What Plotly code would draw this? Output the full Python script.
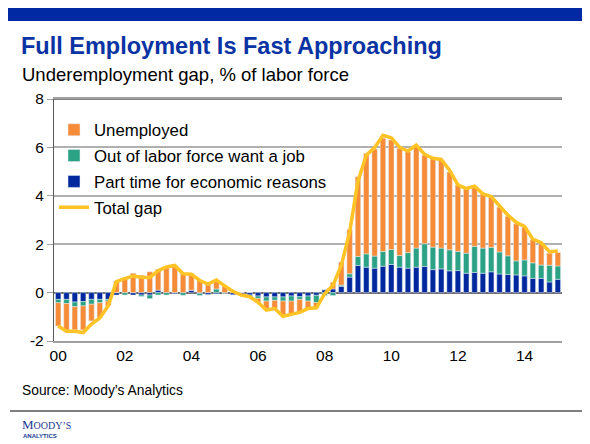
import plotly.graph_objects as go

# quarterly, 2000Q1 .. 2015Q1
quarters = list(range(61))
year_ticks = [0, 8, 16, 24, 32, 40, 48, 56]
year_labels = ["00", "02", "04", "06", "08", "10", "12", "14"]
gap_ticks = [-2, 0, 2, 4, 6, 8]
gap_labels = ["-2", "0", "2", "4", "6", "8"]

part_time = [-0.28, -0.28, -0.39, -0.37, -0.28, -0.28, -0.28, -0.10, 0.00, -0.10,
             -0.10, -0.10, 0.10, 0.00, -0.05, 0.00, 0.10, -0.04, -0.08, -0.05,
             0.00, -0.09, -0.10, -0.10, -0.14, -0.18, -0.18, -0.18, -0.14, -0.17,
             -0.14, -0.11, 0.12, 0.15, 0.26, 0.64, 1.12, 1.05, 1.01, 1.09,
             1.16, 1.05, 1.01, 1.05, 1.08, 0.95, 0.98, 0.90, 0.91, 0.80,
             0.83, 0.80, 0.86, 0.77, 0.75, 0.73, 0.69, 0.59, 0.59, 0.44,
             0.55]
out_of_lf = [-0.14, -0.17, -0.19, -0.18, -0.20, -0.14, -0.07, 0.00, -0.10, 0.00,
             -0.06, -0.15, -0.10, -0.10, 0.00, -0.11, 0.00, -0.08, 0.00, 0.15,
             -0.03, 0.00, 0.00, -0.06, -0.10, -0.17, -0.14, -0.17, -0.21, -0.11,
             -0.21, -0.30, -0.12, -0.12, 0.05, 0.14, 0.37, 0.55, 0.50, 0.61,
             0.62, 0.48, 0.64, 0.79, 0.94, 0.93, 0.86, 0.87, 0.79, 0.83,
             1.08, 1.04, 1.01, 0.91, 0.77, 0.58, 0.66, 0.64, 0.55, 0.69,
             0.55]
unemployed = [-0.96, -1.10, -0.96, -0.99, -0.69, -0.61, -0.20, 0.48, 0.62, 0.80,
              0.72, 0.86, 0.87, 1.06, 1.13, 0.79, 0.68, 0.52, 0.32, 0.33,
              0.25, 0.05, 0.00, 0.00, -0.17, -0.35, -0.34, -0.64, -0.55, -0.52,
              -0.30, -0.22, 0.00, 0.28, 0.95, 1.83, 3.30, 4.15, 4.42, 4.68,
              4.53, 4.43, 4.17, 4.23, 3.66, 3.67, 3.64, 3.21, 2.75, 2.66,
              2.47, 2.24, 2.07, 1.85, 1.63, 1.53, 1.35, 0.97, 0.87, 0.50,
              0.56]
total_gap = [-1.38, -1.60, -1.60, -1.65, -1.30, -1.05, -0.55, 0.45, 0.58, 0.68,
             0.63, 0.62, 0.90, 1.06, 1.12, 0.78, 0.76, 0.50, 0.35, 0.52,
             0.28, 0.05, -0.10, -0.17, -0.40, -0.72, -0.66, -0.98, -0.90, -0.82,
             -0.66, -0.63, -0.05, 0.30, 1.12, 2.50, 4.60, 5.68, 5.99, 6.50,
             6.40, 6.00, 5.85, 6.10, 5.71, 5.55, 5.50, 5.06, 4.45, 4.30,
             4.40, 4.08, 3.97, 3.56, 3.20, 2.90, 2.74, 2.21, 2.06, 1.69,
             1.72]

BLUE = "#00289E"
TEAL = "#2BA283"
ORANGE = "#F68C37"
GOLD = "#FFC325"

fig = go.Figure()
fig.add_trace(go.Bar(x=quarters, y=part_time, name="Part time for economic reasons",
                     marker_color=BLUE, legendrank=3, legendgroup="c"))
fig.add_trace(go.Bar(x=quarters, y=out_of_lf, name="Out of labor force want a job",
                     marker_color=TEAL, legendrank=2, legendgroup="b"))
fig.add_trace(go.Bar(x=quarters, y=unemployed, name="Unemployed",
                     marker_color=ORANGE, legendrank=1, legendgroup="a"))
fig.add_trace(go.Scatter(x=quarters, y=total_gap, name="Total gap", mode="lines",
                         line=dict(color=GOLD, width=3.5), legendrank=4, legendgroup="d"))


def px(x):
    # reference pixel -> paper x (plot area spans 54..562)
    return (x - 54) / 508


def py(y):
    # reference pixel -> paper y (plot area spans 99..341)
    return (341 - y) / 242


# page furniture: top band, rule above the logo
fig.add_shape(type="rect", xref="paper", yref="paper",
              x0=px(8), x1=px(582), y0=py(6), y1=py(21),
              fillcolor="#0029A3", line_width=0, layer="below")
fig.add_shape(type="line", xref="paper", yref="paper",
              x0=px(10), x1=px(582), y0=py(411), y1=py(411),
              line=dict(color="black", width=1.2))
# top frame line at 8
fig.add_shape(type="line", xref="paper", yref="y", x0=0, x1=1, y0=8, y1=8,
              line=dict(color="#595959", width=1.3))

fig.add_annotation(text="<b>Full Employment Is Fast Approaching</b>",
                   xref="paper", yref="paper", x=px(19), y=py(46),
                   xanchor="left", yanchor="middle", showarrow=False,
                   font=dict(family="Liberation Sans, Arial", size=23.5, color="#0A33A3"))
fig.add_annotation(text="Underemployment gap, % of labor force",
                   xref="paper", yref="paper", x=px(20), y=py(74),
                   xanchor="left", yanchor="middle", showarrow=False,
                   font=dict(family="Liberation Sans, Arial", size=18.5, color="black"))
fig.add_annotation(text="Source: Moody’s Analytics",
                   xref="paper", yref="paper", x=px(20), y=py(390),
                   xanchor="left", yanchor="middle", showarrow=False,
                   font=dict(family="Liberation Sans, Arial", size=13.8, color="black"))
fig.add_annotation(text="M<span style='font-size:10px'>OODY’S</span>",
                   xref="paper", yref="paper", x=px(20), y=py(424),
                   xanchor="left", yanchor="middle", showarrow=False,
                   font=dict(family="Liberation Serif, Times New Roman", size=13, color="#1A3A94"))
fig.add_annotation(text="<b>ANALYTICS</b>",
                   xref="paper", yref="paper", x=px(21), y=py(436),
                   xanchor="left", yanchor="middle", showarrow=False,
                   font=dict(family="Liberation Sans, Arial", size=6, color="#1A3A94"))

# the page adds an 8px body margin, so the figure is drawn 8px smaller
fig.update_layout(
    width=582, height=436,
    margin=dict(l=46, r=28, t=91, b=103),
    paper_bgcolor="white", plot_bgcolor="white",
    barmode="relative", bargap=0.34,
    font=dict(family="Liberation Sans, Arial", size=15.5, color="black"),
    showlegend=True,
    legend=dict(x=0.0, y=0.945, xanchor="left", yanchor="top",
                bgcolor="rgba(0,0,0,0)", traceorder="grouped", tracegroupgap=1,
                font=dict(size=16.8), itemwidth=30),
)
fig.update_xaxes(range=[-0.5, 60.5], tickmode="array", tickvals=year_ticks,
                 ticktext=year_labels, showgrid=False, ticks="",
                 showline=True, linecolor="#A0A0A0", linewidth=1.5, mirror=True,
                 zeroline=False)
fig.update_yaxes(range=[-2, 8], tickmode="array", tickvals=gap_ticks, ticktext=gap_labels,
                 showgrid=True, gridcolor="#B0B0B0",
                 gridwidth=1.5, zeroline=True, zerolinecolor="#6E6E6E", zerolinewidth=1.5,
                 ticks="outside", ticklen=6, tickcolor="#A0A0A0",
                 showline=True, linecolor="#595959", linewidth=1.3)

fig.write_html("out.html")
